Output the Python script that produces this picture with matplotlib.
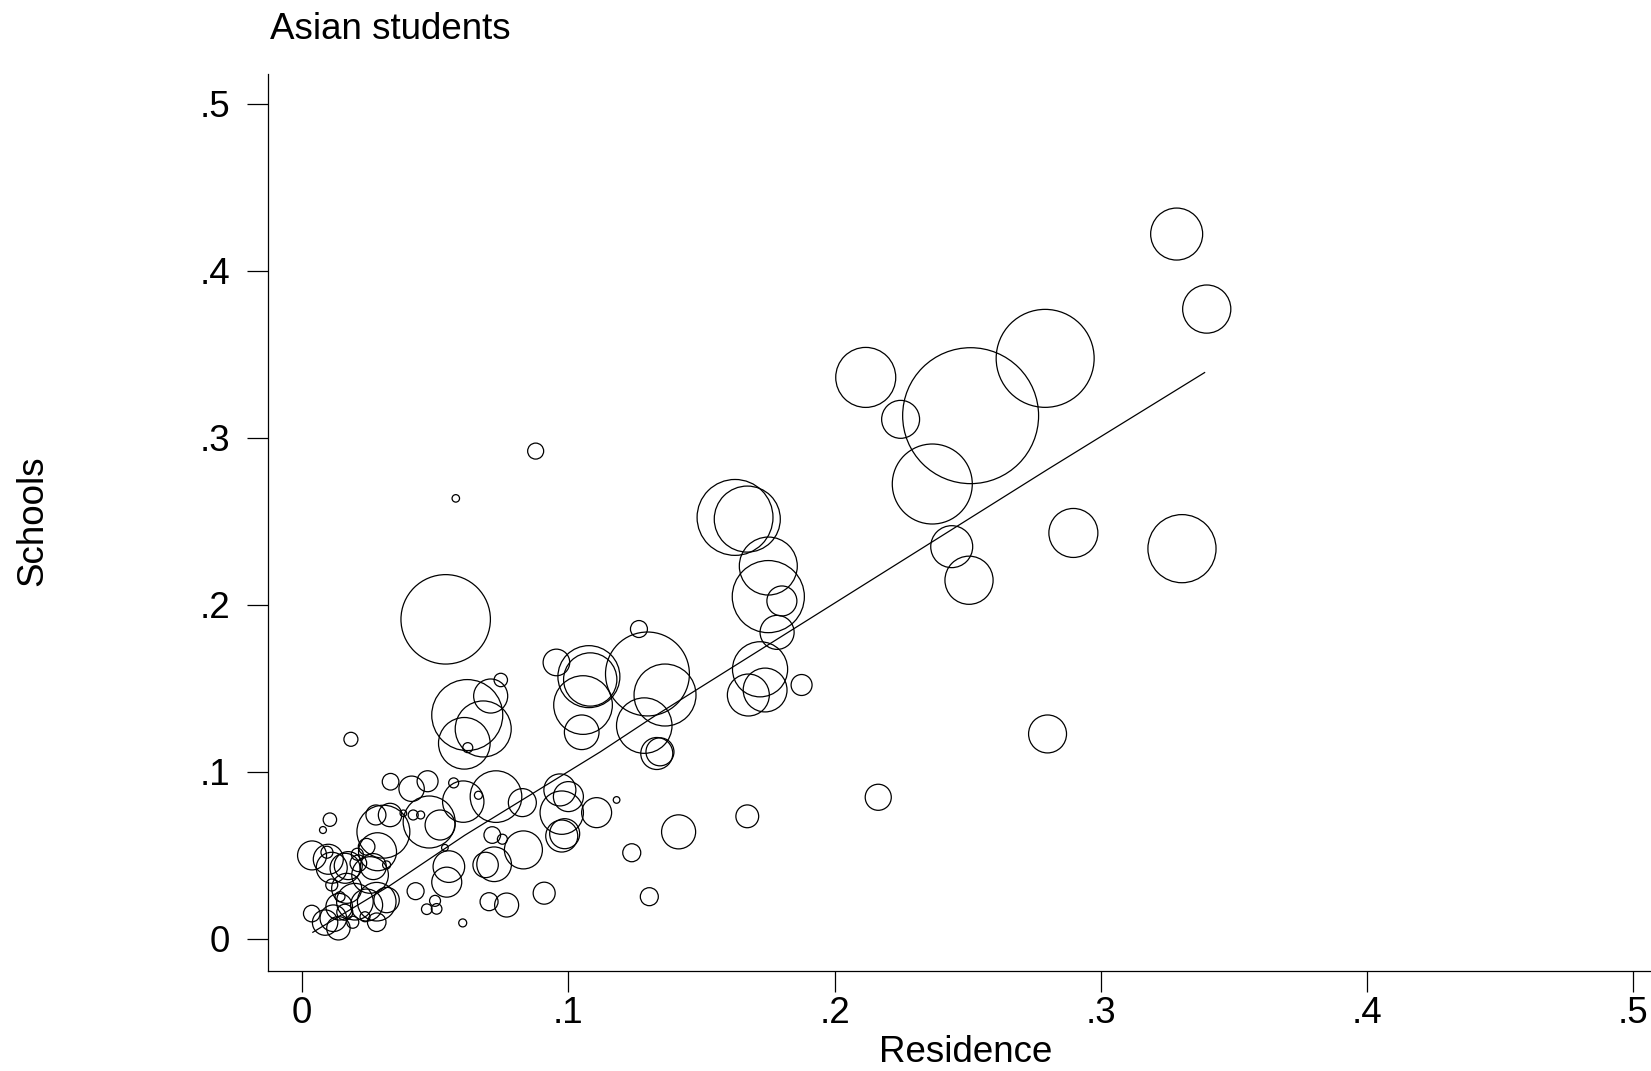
import matplotlib
matplotlib.use("Agg")
import matplotlib.pyplot as plt
import numpy as np

# Residence share (x), Schools share (y), weight (bubble area units)
residence = [
    0.3285, 0.3398, 0.2511, 0.2791, 0.2117, 0.2248, 0.2367, 0.2440, 0.2505, 0.2897,
    0.3305, 0.2800, 0.2164, 0.1672, 0.1414,
    0.1626, 0.1672, 0.1751, 0.1751, 0.1802, 0.1784, 0.1720, 0.1876, 0.1676, 0.1739,
    0.1265, 0.0955, 0.1077, 0.1082, 0.1055, 0.1050, 0.1297, 0.1363, 0.1285, 0.1332, 0.1344,
    0.0539, 0.0620, 0.0708, 0.0746, 0.0680, 0.0609, 0.0622, 0.0877, 0.0577, 0.0183,
    0.0332, 0.0411, 0.0471, 0.0569, 0.0662, 0.0605, 0.0728, 0.0827, 0.0968, 0.1000,
    0.0975, 0.1106, 0.1181, 0.0975, 0.0986, 0.1238, 0.1304, 0.0909, 0.0768, 0.0702,
    0.0603, 0.0505, 0.0468, 0.0499, 0.0426, 0.0551, 0.0543, 0.0689, 0.0721, 0.0714,
    0.0752, 0.0831,
    0.0037, 0.0098, 0.0111, 0.0093, 0.0104, 0.0078, 0.0173, 0.0207, 0.0242, 0.0283,
    0.0305, 0.0277, 0.0330, 0.0380, 0.0417, 0.0445, 0.0477, 0.0518, 0.0536, 0.0267,
    0.0317, 0.0255, 0.0280, 0.0317, 0.0280, 0.0242, 0.0236, 0.0036, 0.0211, 0.0161,
    0.0111, 0.0167, 0.0198, 0.0139, 0.0117, 0.0136, 0.0086, 0.0142, 0.0190, 0.0160,
]
schools = [
    0.4219, 0.3770, 0.3132, 0.3475, 0.3361, 0.3110, 0.2723, 0.2348, 0.2147, 0.2430,
    0.2336, 0.1227, 0.0848, 0.0734, 0.0641,
    0.2523, 0.2513, 0.2232, 0.2049, 0.2023, 0.1835, 0.1614, 0.1520, 0.1460, 0.1490,
    0.1855, 0.1655, 0.1570, 0.1553, 0.1400, 0.1237, 0.1586, 0.1460, 0.1277, 0.1110, 0.1120,
    0.1913, 0.1340, 0.1454, 0.1550, 0.1257, 0.1171, 0.1145, 0.2920, 0.2637, 0.1195,
    0.0941, 0.0899, 0.0944, 0.0934, 0.0860, 0.0822, 0.0852, 0.0816, 0.0892, 0.0852,
    0.0756, 0.0756, 0.0832, 0.0616, 0.0630, 0.0516, 0.0253, 0.0274, 0.0203, 0.0223,
    0.0096, 0.0180, 0.0178, 0.0228, 0.0286, 0.0433, 0.0340, 0.0443, 0.0447, 0.0622,
    0.0597, 0.0533,
    0.0500, 0.0477, 0.0426, 0.0519, 0.0714, 0.0652, 0.0439, 0.0507, 0.0552, 0.0522,
    0.0642, 0.0742, 0.0742, 0.0752, 0.0742, 0.0742, 0.0700, 0.0682, 0.0546, 0.0433,
    0.0443, 0.0383, 0.0223, 0.0233, 0.0100, 0.0203, 0.0133, 0.0152, 0.0453, 0.0423,
    0.0323, 0.0303, 0.0223, 0.0193, 0.0124, 0.0064, 0.0098, 0.0253, 0.0100, 0.0160,
]
weight = [
    676, 580, 4620, 2400, 900, 360, 1600, 440, 580, 600,
    1160, 360, 170, 130, 290,
    1440, 1090, 840, 1300, 225, 290, 760, 110, 440, 480,
    72, 177, 960, 710, 860, 300, 1760, 960, 770, 256, 196,
    2000, 1260, 290, 45, 784, 666, 25, 64, 14, 49,
    69, 161, 110, 25, 16, 428, 666, 196, 256, 225,
    470, 225, 11, 256, 225, 81, 81, 121, 144, 81,
    16, 28, 28, 30, 72, 250, 225, 161, 300, 69,
    25, 361,
    210, 225, 240, 36, 45, 12, 196, 36, 69, 361,
    700, 100, 137, 11, 25, 16, 676, 225, 11, 169,
    16, 335, 372, 161, 86, 256, 25, 69, 69, 225,
    36, 225, 335, 177, 177, 137, 161, 25, 36, 64,
]

# fitted line
fit_x = [0.004, 0.033, 0.061, 0.112, 0.132, 0.162, 0.195, 0.236, 0.262, 0.280, 0.339]
fit_y = [0.004, 0.032, 0.062, 0.112, 0.133, 0.163, 0.196, 0.237, 0.263, 0.281, 0.339]

ticks = [0, 0.1, 0.2, 0.3, 0.4, 0.5]
tick_labels = ["0", ".1", ".2", ".3", ".4", ".5"]

plt.rcParams['font.family'] = ['Liberation Sans', 'DejaVu Sans']
FS = 26.5

W, H, DPI = 1651, 1071, 100
fig = plt.figure(figsize=(W / DPI, H / DPI), dpi=DPI)
ax = fig.add_axes([267.7 / W, 1 - 970.7 / H, (1663 - 267.7) / W, (970.7 - 74) / H])

px_to_pt = 72.0 / DPI
sizes = [(2 * np.sqrt(w) * px_to_pt) ** 2 for w in weight]
ax.scatter(residence, schools, s=sizes, facecolors='none', edgecolors='black',
           linewidths=0.9, zorder=2)
ax.plot(fit_x, fit_y, color='black', linewidth=0.9, zorder=3)

ax.set_xlim(-0.01296, 0.5112)
ax.set_ylim(-0.0190, 0.5177)

for s in ['top', 'right']:
    ax.spines[s].set_visible(False)
for s in ['left', 'bottom']:
    ax.spines[s].set_linewidth(0.9)

ax.set_xticks(ticks)
ax.set_xticklabels(tick_labels)
ax.set_yticks(ticks)
ax.set_yticklabels(tick_labels)
ax.tick_params(axis='both', direction='out', length=15, width=0.9, labelsize=FS, colors='black')
ax.tick_params(axis='y', pad=12)
ax.tick_params(axis='x', pad=3)

fig.text(269.5 / W, 1 - 39.3 / H, "Asian students", fontsize=FS, ha='left', va='baseline')
fig.text(965.5 / W, 1 - 1062 / H, "Residence", fontsize=FS, ha='center', va='baseline')
fig.text(32.6 / W, 1 - 521 / H, "Schools", fontsize=FS, ha='center', va='center', rotation=90)

fig.savefig("out.png", dpi=DPI)
